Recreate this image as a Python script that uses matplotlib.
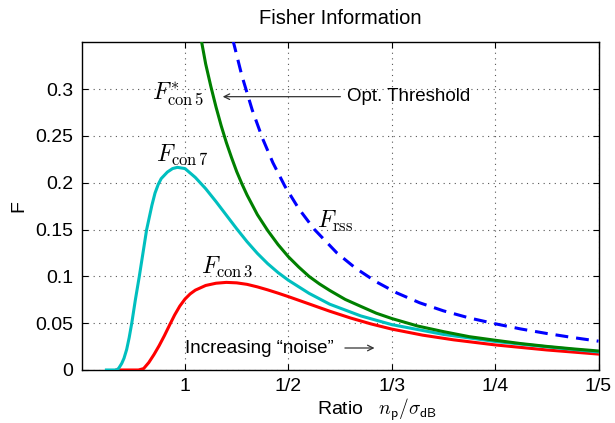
import matplotlib
matplotlib.use("Agg")
import matplotlib.pyplot as plt

plt.rcParams['font.family'] = ['Liberation Sans', 'DejaVu Sans']
plt.rcParams['mathtext.fontset'] = 'cm'

# x axis is inverse ratio: tick k corresponds to ratio 1/k
tick_pos = [1, 2, 3, 4, 5]
tick_labels = ['1', '1/2', '1/3', '1/4', '1/5']
ytick_pos = [0, 0.05, 0.1, 0.15, 0.2, 0.25, 0.3]
ytick_labels = ['0', '0.05', '0.1', '0.15', '0.2', '0.25', '0.3']

# F_con5* (green, optimal threshold)
con5_x = [1.12, 1.16, 1.2, 1.25, 1.3, 1.35, 1.4, 1.45, 1.5, 1.55, 1.6, 1.7, 1.8, 1.9, 2.0, 2.1,
          2.2, 2.3, 2.4, 2.55, 2.7, 2.85, 3.0, 3.25, 3.5, 3.75, 4.0, 4.25, 4.5, 4.75, 5.0]
con5_y = [0.375, 0.351, 0.327, 0.303, 0.281, 0.261, 0.243, 0.227, 0.212, 0.199, 0.187, 0.166,
          0.149, 0.134, 0.121, 0.110, 0.100, 0.092, 0.085, 0.0754, 0.068, 0.0607, 0.055, 0.047,
          0.041, 0.0356, 0.0318, 0.0282, 0.0252, 0.0226, 0.0203]

# F_rss (blue dashed)
rss_x = [1.42, 1.467, 1.55, 1.65, 1.75, 1.85, 1.967, 2.1, 2.25, 2.47, 2.65, 2.85, 3.05, 3.27,
         3.5, 3.75, 4.0, 4.25, 4.5, 4.75, 5.0]
rss_y = [0.3746, 0.351, 0.3145, 0.2779, 0.2474, 0.2215, 0.1962, 0.1724, 0.1504, 0.125, 0.1088,
         0.0942, 0.0823, 0.0718, 0.0632, 0.0556, 0.0494, 0.0438, 0.039, 0.0347, 0.0308]

# F_con7 (cyan)
con7_x = [0.24, 0.34, 0.36, 0.388, 0.41, 0.436, 0.46, 0.485, 0.52, 0.558, 0.595, 0.629, 0.68,
          0.71, 0.742, 0.77, 0.83, 0.88, 0.926, 1.0, 1.1, 1.2, 1.3, 1.4, 1.5, 1.6, 1.7, 1.8,
          1.9, 2.0, 2.2, 2.4, 2.7, 3.0, 3.5, 4.0, 4.5, 5.0]
con7_y = [0.0, 0.0, 0.002, 0.007, 0.0125, 0.022, 0.0345, 0.050, 0.075, 0.100, 0.126, 0.150,
          0.176, 0.189, 0.1985, 0.2045, 0.2115, 0.2152, 0.2165, 0.2152, 0.2057, 0.1937, 0.1799,
          0.1654, 0.1509, 0.1371, 0.1246, 0.1136, 0.1041, 0.0959, 0.0819, 0.0703, 0.0578,
          0.0485, 0.038, 0.0305, 0.0248, 0.0193]

# F_con3 (red)
con3_x = [0.34, 0.55, 0.6, 0.65, 0.7, 0.75, 0.8, 0.85, 0.9, 0.95, 1.0, 1.05, 1.1, 1.2, 1.3, 1.4,
          1.5, 1.6, 1.7, 1.8, 1.9, 2.0, 2.2, 2.4, 2.6, 2.8, 3.0, 3.3, 3.6, 4.0, 4.5, 5.0]
con3_y = [0.0, 0.0, 0.0015, 0.008, 0.0165, 0.026, 0.0365, 0.0478, 0.0588, 0.0683, 0.0758,
          0.0813, 0.0853, 0.0903, 0.0927, 0.0936, 0.0931, 0.0915, 0.0888, 0.0856, 0.0821,
          0.0784, 0.0706, 0.0628, 0.0556, 0.0492, 0.0437, 0.0372, 0.0322, 0.0268, 0.0214,
          0.0170]

fig = plt.figure(figsize=(6.15, 4.23), dpi=100)
ax = fig.add_axes([0.1327, 0.1253, 0.8405, 0.7745])

lw = 2.2
ax.plot(con3_x, con3_y, color='#ff0000', lw=lw, zorder=3)
ax.plot(con7_x, con7_y, color='#00bfbf', lw=lw, zorder=4)
ax.plot(con5_x, con5_y, color='#008000', lw=lw, zorder=5)
ax.plot(rss_x, rss_y, color='#0000ff', lw=lw, ls=(0, (4.2, 2.6)), zorder=6)

ax.set_xlim(0, 5)
ax.set_ylim(0, 0.35)
ax.set_xticks(tick_pos)
ax.set_xticklabels(tick_labels)
ax.set_yticks(ytick_pos)
ax.set_yticklabels(ytick_labels)
ax.tick_params(direction='in', top=True, right=True, labelsize=14, length=4, width=0.8, pad=6)
ax.grid(True, ls=(0, (1, 4)), color='#555555', lw=0.8)
for s in ax.spines.values():
    s.set_linewidth(1.0)

ax.set_title('Fisher Information', fontsize=14.5, pad=13)
ax.set_ylabel('F', fontsize=14, labelpad=6)
ax.set_xlabel(r'Ratio   $n_{\mathsf{p}}/\sigma_{\mathsf{dB}}$', fontsize=14)
ax.xaxis.set_label_coords(0.571, -0.082)

ax.text(0.93, 0.295, r'$F^{*}_{\mathrm{con}\,5}$', fontsize=17, ha='center', va='center', zorder=7)
ax.annotate('', xy=(1.338, 0.292), xytext=(2.53, 0.292),
            arrowprops=dict(arrowstyle='->', color='#333333', lw=0.9))
ax.text(2.57, 0.292, 'Opt. Threshold', fontsize=13.5, ha='left', va='center')

ax.text(0.97, 0.230, r'$F_{\mathrm{con}\,7}$', fontsize=17, ha='center', va='center')
ax.text(1.41, 0.110, r'$F_{\mathrm{con}\,3}$', fontsize=17, ha='center', va='center')
ax.text(2.45, 0.159, r'$F_{\mathrm{rss}}$', fontsize=17, ha='center', va='center')

ax.text(1.0, 0.0235, 'Increasing \u201cnoise\u201d', fontsize=13.5, ha='left', va='center')
ax.annotate('', xy=(2.86, 0.0235), xytext=(2.52, 0.0235),
            arrowprops=dict(arrowstyle='->', color='#333333', lw=0.9))

fig.savefig('out.png', dpi=100)
